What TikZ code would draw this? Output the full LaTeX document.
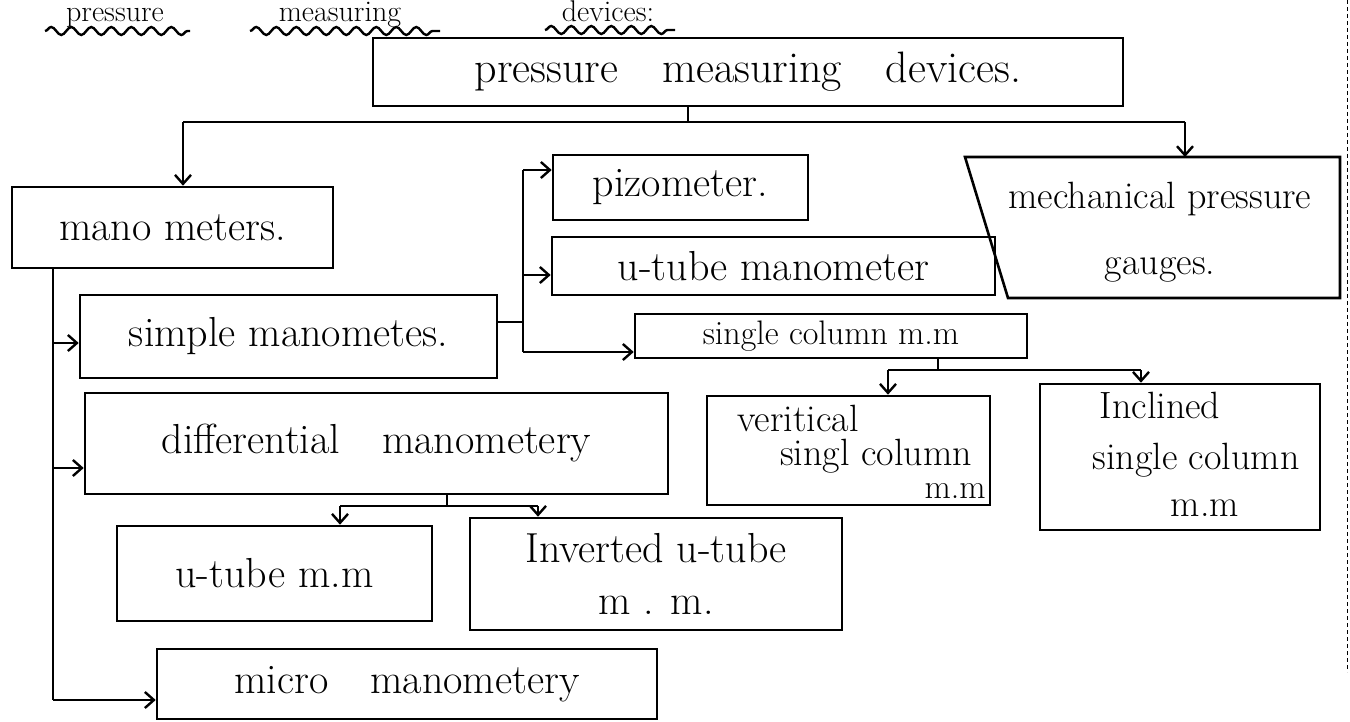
\documentclass[tikz,border=0pt]{standalone}
\usetikzlibrary{arrows.meta,decorations.pathmorphing}
\newcommand\hwfont{\fontsize{42}{52}\selectfont}
\newcommand\hwsmall{\fontsize{38}{48}\selectfont}
\newcommand\hwtiny{\fontsize{34}{40}\selectfont}
\newcommand\hwtitle{\fontsize{30}{36}\selectfont}
\tikzset{
  box/.style={draw, line width=2.6pt, inner sep=0pt, align=center, font=\hwfont},
  txt/.style={inner sep=0pt, align=center, font=\hwsmall},
  conn/.style={line width=2.6pt},
  arr/.style={line width=2.6pt, -{Straight Barb[length=9pt,width=16pt,line width=2.4pt]}},
  wavy/.style={line width=2.4pt, decorate, decoration={snake, amplitude=4pt, segment length=20pt}},
  pageedge/.style={line width=1pt, dash pattern=on 4pt off 3pt},
}
\begin{document}
\begin{tikzpicture}[x=1pt, y=-1pt]
\useasboundingbox (0,0) rectangle (1350,722);

% title
\node[txt, anchor=base, font=\hwtitle] (t1) at (115,22) {pressure};
\node[txt, anchor=base, font=\hwtitle] (t2) at (340,22) {measuring};
\node[txt, anchor=base, font=\hwtitle] (t3) at (608,22) {devices:};
\draw[wavy] (45,31) -- (190,31);
\draw[wavy] (250,31) -- (440,31);
\draw[wavy] (545,30) -- (675,30);

% boxes
\node[box, font=\fontsize{44}{52}\selectfont, minimum width=750pt, minimum height=68pt] (main) at (748,72) {pressure\quad measuring\quad devices.};
\node[box, minimum width=321pt, minimum height=81pt] (mano) at (172.5,227.5) {mano meters.};
\node[box, minimum width=417pt, minimum height=83pt] (simple) at (288.5,336.5) {simple manometes.};
\node[box, minimum width=583pt, minimum height=101pt] (diff) at (376.5,443.5) {differential\quad manometery};
\node[box, minimum width=315pt, minimum height=95pt] (utmm) at (274.5,573.5) {u-tube m.m};
\node[box, minimum width=372pt, minimum height=112pt] (inv) at (656,574) {Inverted u-tube\\m . m.};
\node[box, minimum width=500pt, minimum height=70pt] (micro) at (407,684) {micro\quad manometery};
\node[box, minimum width=255pt, minimum height=65pt] (piezo) at (680.5,187.5) {pizometer.};
\node[box, minimum width=443pt, minimum height=58pt] (utube) at (773.5,266) {u-tube manometer};
\node[box, font=\hwtiny, minimum width=392pt, minimum height=44pt] (sc) at (831,336) {single column m.m};
\node[box, minimum width=283pt, minimum height=109pt] (vert) at (848.5,450.5) {};
\node[txt] (v1) at (798,418) {veritical};
\node[txt] (v2) at (876,456) {singl column};
\node[txt, font=\hwtiny] (v3) at (955,491) {m.m};
\node[box, minimum width=280pt, minimum height=146pt] (incl) at (1180,457) {};
\node[txt] (i1) at (1160,405) {Inclined};
\node[txt] (i2) at (1196,460) {single column};
\node[txt] (i3) at (1205,508) {m.m};

% mechanical pressure gauges (slanted left side)
\coordinate (m1) at (965,157);
\coordinate (m2) at (1340,157);
\coordinate (m3) at (1340,298);
\coordinate (m4) at (1008,298);
\draw[line width=2.6pt] (m1) -- (m2) -- (m3) -- (m4) -- cycle;
\node[txt, font=\fontsize{38}{66}\selectfont] (mech) at (1160,232) {mechanical pressure\\gauges.};
\coordinate (mechtop) at (1185,157);

% page edge
\draw[pageedge] (1347,0) -- (1347,672);

% connectors from the main box
\coordinate (j0) at (688,122);
\coordinate (jl) at (183,122);
\coordinate (jr) at (1185,122);
\draw[conn] (main.south -| j0) -- (j0);
\draw[conn] (jl) -- (jr);
\draw[arr] (jl) -- (jl |- mano.north);
\draw[arr] (jr) -- (mechtop);

% manometers trunk
\coordinate (ta) at (53,343);
\coordinate (tb) at (53,468);
\coordinate (tc) at (53,700);
\draw[conn] (mano.south -| ta) -- (tc);
\draw[arr] (ta) -- (ta -| simple.west);
\draw[arr] (tb) -- (tb -| diff.west);
\draw[arr] (tc) -- (tc -| micro.west);

% simple manometers branch
\coordinate (s0) at (523,322);
\coordinate (s1) at (523,170);
\coordinate (s2) at (523,275);
\coordinate (s3) at (523,352);
\draw[conn] (simple.east |- s0) -- (s0);
\draw[conn] (s1) -- (s3);
\draw[arr] (s1) -- (s1 -| piezo.west);
\draw[arr] (s2) -- (s2 -| utube.west);
\draw[arr] (s3) -- (s3 -| sc.west);

% single column branch
\coordinate (c0) at (938,370);
\coordinate (c1) at (888,370);
\coordinate (c2) at (1141,370);
\draw[conn] (sc.south -| c0) -- (c0);
\draw[conn] (c1) -- (c2);
\draw[arr] (c1) -- (c1 |- vert.north);
\draw[arr] (c2) -- (c2 |- incl.north);

% differential branch
\coordinate (d0) at (447,506);
\coordinate (d1) at (340,506);
\coordinate (d2) at (538,506);
\draw[conn] (diff.south -| d0) -- (d0);
\draw[conn] (d1) -- (d2);
\draw[arr] (d1) -- (d1 |- utmm.north);
\draw[arr] (d2) -- (d2 |- inv.north);
\end{tikzpicture}
\end{document}
